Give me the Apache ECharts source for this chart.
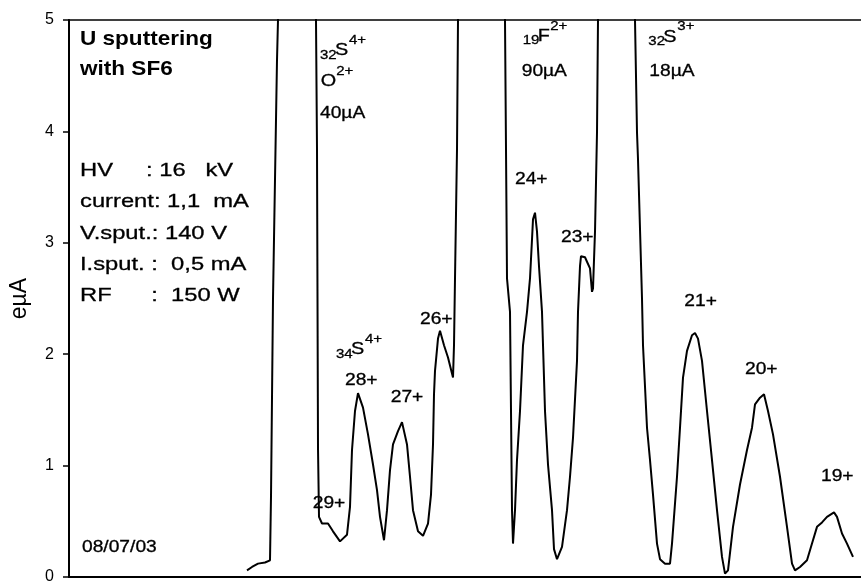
<!DOCTYPE html>
<html><head><meta charset="utf-8">
<script src="https://cdn.jsdelivr.net/npm/echarts@6/dist/echarts.min.js"></script>
<style>html,body{margin:0;padding:0;background:#fff}#c{width:861px;height:585px}</style>
</head><body><div id="c"></div>
<script>
// scan position (arbitrary units along the mass scan)
const scanPos = [178,183,189,196,201,202,203,204,206,208,209,228,
  247,248,248.5,249,250,253,259,264,271,278,281,283,286,289,294,299,304,308,311,315,318,321,324,329,333,338,341,344,349,354,359,362,364,365,366,369,371,375,379,384,385,386,388,389,412,
  436,438,441,442,443,444,446,448,451,454,458,461,463,464,466,468,470,473,476,479,483,485,488,493,498,501,504,508,509,511,512,516,518,521,523,524,526,528,529,547,
  566,568,569,573,574,578,581,584,588,591,596,601,603,608,611,614,618,623,626,629,633,638,643,648,653,656,659,664,671,678,683,686,691,695,699,704,711,718,723,726,731,738,743,748,753,758,765,768,773,778,784];
// beam current (eµA)
const current = [0.06,0.09,0.12,0.13,0.15,0.72,1.61,2.50,3.57,4.64,5.0,40,
  5.0,3.84,2.50,1.16,0.54,0.48,0.48,0.41,0.32,0.38,0.63,1.14,1.49,1.65,1.52,1.28,1.01,0.78,0.54,0.33,0.60,0.96,1.19,1.31,1.39,1.19,0.90,0.60,0.41,0.37,0.48,0.74,1.19,1.64,1.85,2.14,2.21,2.08,1.97,1.79,2.08,2.68,3.84,5.0,90,
  5.0,2.68,2.38,1.49,0.60,0.30,0.60,1.05,1.49,2.08,2.38,2.68,3.03,3.21,3.27,3.10,2.79,2.38,1.49,1.01,0.60,0.25,0.16,0.27,0.60,0.90,1.25,1.94,2.38,2.79,2.88,2.87,2.83,2.77,2.56,2.59,3.10,3.99,5.0,18,
  5.0,3.99,3.75,2.50,2.08,1.34,1.05,0.74,0.30,0.16,0.12,0.12,0.30,0.90,1.34,1.79,2.03,2.17,2.19,2.14,1.94,1.49,1.05,0.60,0.18,0.03,0.06,0.45,0.83,1.14,1.34,1.55,1.61,1.64,1.49,1.28,0.90,0.45,0.12,0.06,0.09,0.15,0.30,0.45,0.49,0.54,0.58,0.54,0.39,0.30,0.18];
const yMin = 0, yMax = 5, yInterval = 1;
const xMin = 0, xMax = 792;
const yName = 'eµA';
const titleLines = ['U sputtering', 'with SF6'];
const infoLines = ['HV     : 16   kV', 'current: 1,1  mA', 'V.sput.: 140 V', 'I.sput. :  0,5 mA', 'RF      :  150 W'];
const dateText = '08/07/03';

const FF = '"Liberation Sans", Arial, Helvetica, sans-serif';
function txt(text, x, y, size, opts) {
  opts = opts || {};
  return {
    type: 'text', x: x, y: y, scaleX: opts.sx || 1.2, silent: true, z: 100,
    style: { text: text, fontSize: size, fontFamily: FF, fontWeight: opts.bold ? 'bold' : 'normal',
      fill: '#000', stroke: '#000', lineWidth: opts.bold ? 0 : 0.3, align: 'left', verticalAlign: 'middle' }
  };
}
const g = [];
g.push(txt(titleLines[0], 80, 39.5, 20.5, {bold: true, sx: 1.1}));
g.push(txt(titleLines[1], 80, 69.5, 20.5, {bold: true, sx: 1.1}));
const infoY = [171, 202, 233.5, 264.5, 295.5];
infoLines.forEach((s, i) => g.push(txt(s, 80, infoY[i], 19, {sx: 1.25})));
g.push(txt(dateText, 82, 548, 16, {sx: 1.2}));
// ion annotations
const peakLabels = [['24+',515,180],['23+',561,237.5],['28+',345,380.7],['27+',390.7,398],['26+',420,320],
  ['29+',312.7,504],['21+',684.3,302],['20+',745,370],['19+',821,477],
  ['40µA',320,113.3],['90µA',521.7,71.7],['18µA',649.3,71.7]];
peakLabels.forEach(p => g.push(txt(p[0], p[1], p[2], 16)));
// isotopes with sub/superscripts: [sub, main, sup, x, yMain]
const isotopes = [['32','S','4+',320,50.8],['','O','2+',320.7,81.7],['19','F','2+',522.7,36.3],['32','S','3+',648.3,37],['34','S','4+',336,349.7]];
isotopes.forEach(t => {
  let x = t[3];
  if (t[0]) { g.push(txt(t[0], x, t[4] + 4.5, 12.5)); x += 15; }
  g.push(txt(t[1], x, t[4], 16.5));
  x += t[1] === 'O' ? 15.5 : (t[1] === 'F' ? 12.5 : 14);
  g.push(txt(t[2], x, t[4] - 10, 12.5));
});

const chart = echarts.init(document.getElementById('c'), null, {renderer: 'canvas'});
chart.setOption({
  animation: false,
  backgroundColor: '#fff',
  grid: { left: 69, right: 0, top: 20, bottom: 4, show: false },
  xAxis: [
    { type: 'value', min: xMin, max: xMax, axisLine: { show: true, lineStyle: { color: '#000', width: 2 } },
      axisTick: { show: false }, axisLabel: { show: false }, splitLine: { show: false } },
    { type: 'value', position: 'top', min: xMin, max: xMax, axisLine: { show: true, lineStyle: { color: '#000', width: 1.5 } },
      axisTick: { show: false }, axisLabel: { show: false }, splitLine: { show: false } }
  ],
  yAxis: { type: 'value', min: yMin, max: yMax, interval: yInterval,
    name: yName, nameLocation: 'middle', nameRotate: 90, nameGap: 38,
    nameTextStyle: { fontSize: 23, fontFamily: FF, color: '#000' },
    axisLine: { show: true, lineStyle: { color: '#000', width: 2 } },
    axisTick: { show: true, length: 6, lineStyle: { color: '#000', width: 1.5 } },
    axisLabel: { fontSize: 16, fontFamily: FF, color: '#000', margin: 15 },
    splitLine: { show: false } },
  series: [{
    type: 'line', xAxisIndex: 0, data: scanPos.map((x, i) => [x, current[i]]), showSymbol: false, symbol: 'none',
    clip: true, lineStyle: { color: '#000', width: 2 }, smooth: false
  }],
  graphic: g
});
</script></body></html>
